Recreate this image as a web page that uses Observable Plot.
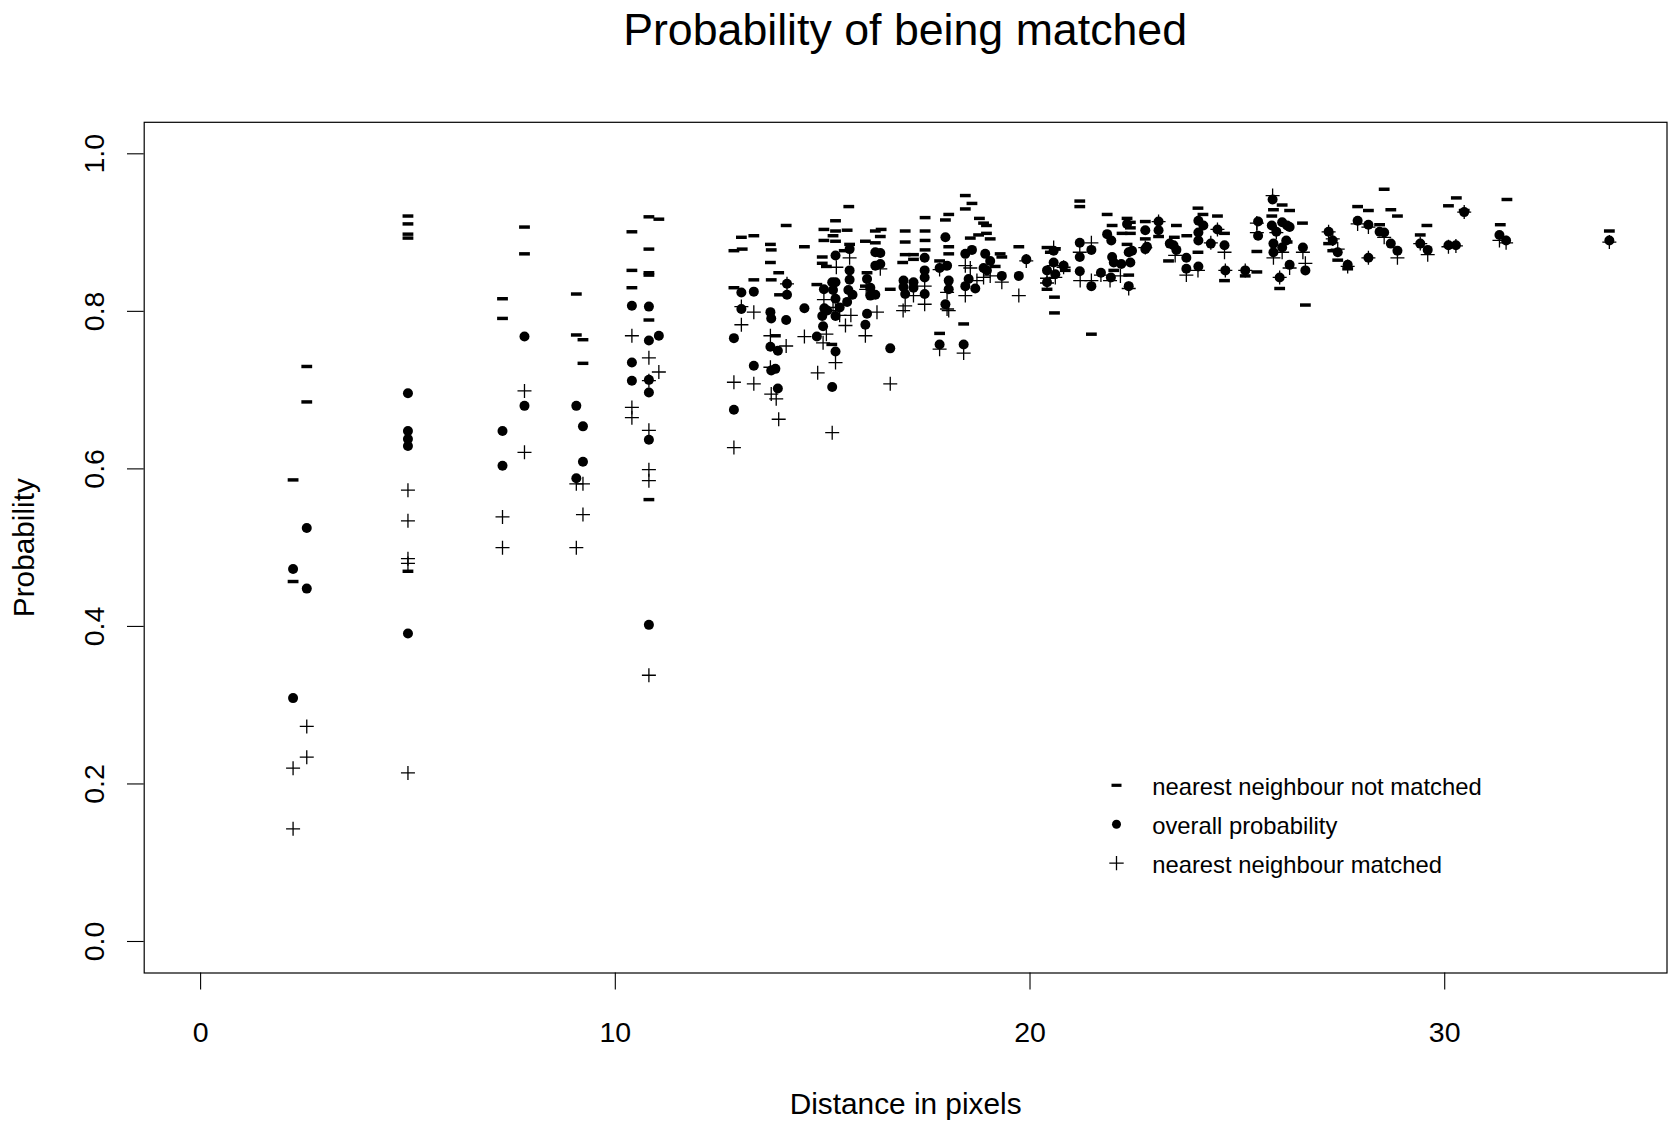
<!DOCTYPE html>
<html>
<head>
<meta charset="utf-8">
<script src="https://cdn.jsdelivr.net/npm/d3@7"></script>
<script src="https://cdn.jsdelivr.net/npm/@observablehq/plot@0.6"></script>
<style>
  html, body { margin: 0; padding: 0; background: #fff; }
  body { width: 1669px; height: 1123px; overflow: hidden;
         font-family: "Liberation Sans", Arial, Helvetica, sans-serif; color: #000; }
  #title { height: 70px; box-sizing: border-box; padding: 4px 2.5px 0 143.7px;
           text-align: center; font-size: 44.7px; line-height: 51px; white-space: nowrap; }
  #chart svg { display: block; }
</style>
</head>
<body>
<div id="title">Probability of being matched</div>
<div id="chart"></div>
<script>
// Probability that the nearest neighbour was NOT matched, by distance (pixels)
const notMatched = [
  [2.23,0.586],[2.23,0.457],[2.56,0.730],[2.56,0.685],
  [5.0,0.921],[5.0,0.911],[5.0,0.898],[5.0,0.893],[5.0,0.470],
  [7.28,0.816],[7.28,0.791],[7.81,0.907],[7.81,0.873],
  [9.06,0.822],[9.06,0.770],[9.22,0.764],[9.22,0.734],
  [10.40,0.901],[10.40,0.852],[10.40,0.830],
  [10.81,0.920],[10.81,0.879],[10.81,0.849],[10.81,0.846],[10.81,0.789],[10.81,0.561],
  [11.05,0.917],
  [15.63,0.933],[14.12,0.909],[15.31,0.915],[13.04,0.894],[13.34,0.896],[12.86,0.877],[13.06,0.879],
  [13.74,0.885],[13.76,0.878],[13.74,0.862],[13.94,0.849],[13.34,0.840],[13.76,0.840],[12.86,0.830],[14.56,0.882],
  [15.03,0.904],[15.31,0.902],[15.59,0.903],[15.25,0.896],[15.03,0.890],[15.31,0.889],[15.65,0.885],[15.52,0.877],
  [16.03,0.889],[16.27,0.887],[16.27,0.902],[16.41,0.904],[16.39,0.895],
  [14.99,0.869],[14.99,0.861],[15.09,0.857],[14.86,0.834],[16.63,0.828],[16.07,0.849],[16.03,0.832],
  [13.86,0.769],[15.22,0.758],[13.96,0.821],
  [18.44,0.947],[18.60,0.937],[18.44,0.930],[17.47,0.919],[18.04,0.923],[17.96,0.916],
  [16.99,0.902],[17.47,0.902],[16.99,0.888],[17.47,0.890],
  [16.93,0.862],[16.99,0.872],[17.19,0.872],[17.19,0.866],[17.47,0.878],
  [17.82,0.772],[18.40,0.784],
  [18.78,0.918],[18.88,0.912],[18.95,0.909],[18.95,0.899],[19.04,0.892],
  [18.56,0.893],[18.76,0.897],[18.04,0.882],[18.04,0.873],
  [19.28,0.873],[19.32,0.869],[19.16,0.857],[19.73,0.882],
  [20.41,0.881],[20.49,0.875],[20.61,0.879],[20.41,0.828],[20.59,0.818],[20.59,0.798],
  [21.20,0.940],[21.20,0.933],[17.82,0.864],
  [21.48,0.771],[21.86,0.923],[21.98,0.909],
  [22.34,0.918],[22.42,0.913],[22.42,0.906],[22.22,0.899],[22.42,0.899],[22.34,0.885],
  [22.78,0.914],[22.78,0.892],[22.02,0.852],[22.38,0.846],[23.10,0.895],[23.34,0.864],
  [23.53,0.909],[23.48,0.894],[23.78,0.896],[24.05,0.931],[24.17,0.923],[24.05,0.875],
  [24.52,0.921],[24.69,0.899],[24.69,0.839],[25.19,0.845],[25.47,0.876],[25.47,0.850],[20.85,0.852],
  [28.54,0.955],[27.90,0.933],[28.16,0.928],[28.70,0.929],[28.86,0.921],[29.57,0.909],[29.41,0.897],[28.43,0.910],
  [26.08,0.935],[26.26,0.928],[25.87,0.929],[25.83,0.921],[26.57,0.912],[26.20,0.888],[26.02,0.829],[26.64,0.808],
  [27.20,0.886],[27.30,0.877],[27.42,0.865],[27.66,0.854],
  [30.28,0.944],[30.09,0.934],[31.50,0.942],[31.34,0.910],[33.97,0.902],[30.47,0.928]
];

// Overall probability of being matched
const overall = [
  [2.23,0.473],[2.23,0.309],[2.56,0.525],[2.56,0.448],
  [5.0,0.696],[5.0,0.648],[5.0,0.638],[5.0,0.629],[5.0,0.391],
  [7.28,0.648],[7.28,0.604],[7.81,0.768],[7.81,0.680],
  [9.06,0.680],[9.06,0.588],[9.22,0.654],[9.22,0.609],
  [10.40,0.807],[10.40,0.735],[10.40,0.712],
  [10.81,0.806],[10.81,0.763],[10.81,0.713],[10.81,0.697],[10.81,0.637],[10.81,0.402],
  [11.05,0.769],
  [13.04,0.824],[13.34,0.825],[13.04,0.803],[12.86,0.766],[13.34,0.731],[12.86,0.675],
  [13.74,0.799],[13.76,0.791],[14.12,0.789],[13.74,0.755],[13.92,0.750],[13.76,0.725],[13.86,0.727],[13.92,0.702],
  [14.14,0.835],[14.14,0.821],[14.56,0.804],[14.86,0.768],
  [15.03,0.828],[15.04,0.804],[15.11,0.801],[14.99,0.794],[15.01,0.781],
  [15.23,0.837],[15.31,0.837],[15.25,0.827],[15.31,0.816],[15.31,0.794],[15.31,0.749],[15.23,0.704],[15.31,0.871],
  [15.65,0.879],[15.65,0.852],[15.65,0.840],[15.62,0.827],[15.72,0.821],[15.59,0.812],[15.41,0.805],
  [16.07,0.841],[16.15,0.830],[16.15,0.820],[16.27,0.821],[16.07,0.797],[16.03,0.783],
  [16.27,0.875],[16.39,0.874],[16.27,0.858],[16.39,0.860],[16.63,0.753],
  [16.95,0.839],[16.95,0.831],[16.99,0.822],[17.19,0.837],[17.19,0.830],
  [17.46,0.868],[17.46,0.852],[17.46,0.843],[17.46,0.822],
  [17.82,0.758],[17.96,0.894],[18.00,0.858],[18.04,0.839],[18.04,0.828],[17.96,0.809],[17.82,0.855],
  [18.40,0.758],[18.44,0.873],[18.60,0.878],[18.52,0.841],[18.44,0.832],[18.68,0.829],
  [18.92,0.873],[19.04,0.864],[18.88,0.855],[18.96,0.852],[19.32,0.845],
  [19.73,0.845],[19.91,0.866],
  [20.41,0.852],[20.41,0.837],[20.57,0.877],[20.57,0.862],[20.61,0.847],[20.81,0.858],
  [21.20,0.887],[21.20,0.869],[21.20,0.851],
  [21.48,0.878],[21.48,0.832],[21.71,0.849],
  [21.86,0.898],[21.96,0.890],[21.98,0.869],[22.02,0.862],[21.95,0.843],[22.20,0.860],
  [22.34,0.911],[22.38,0.875],[22.46,0.877],[22.42,0.862],[22.38,0.832],
  [22.78,0.903],[22.78,0.879],[22.82,0.882],[23.10,0.914],[23.10,0.903],
  [23.37,0.886],[23.46,0.884],[23.53,0.878],[23.77,0.868],[23.77,0.854],
  [24.06,0.915],[24.18,0.909],[24.06,0.900],[24.06,0.890],[24.06,0.857],
  [24.36,0.886],[24.52,0.904],[24.69,0.884],[24.71,0.852],
  [25.19,0.852],[25.50,0.914],[25.50,0.896],
  [25.85,0.942],[25.83,0.909],[25.94,0.901],[26.08,0.913],[26.20,0.909],[26.26,0.907],[26.18,0.890],
  [25.87,0.886],[25.87,0.875],[26.08,0.881],[26.26,0.859],[26.64,0.852],[26.02,0.843],[26.58,0.881],
  [27.20,0.901],[27.30,0.890],[27.42,0.875],[27.66,0.859],[28.16,0.868],[27.90,0.915],[28.16,0.910],
  [28.43,0.901],[28.54,0.900],[28.70,0.886],[28.86,0.877],[29.41,0.886],[29.59,0.878],
  [30.09,0.884],[30.27,0.884],[30.47,0.926],[31.32,0.897],[31.48,0.890],[33.97,0.890]
];

// Probability when the nearest neighbour was matched
const matched = [
  [2.23,0.220],[2.23,0.143],[2.56,0.273],[2.56,0.234],
  [5.0,0.573],[5.0,0.534],[5.0,0.486],[5.0,0.480],[5.0,0.214],
  [7.28,0.539],[7.28,0.500],[7.81,0.699],[7.81,0.621],
  [9.06,0.581],[9.06,0.500],[9.22,0.581],[9.22,0.542],
  [10.40,0.769],[10.40,0.678],[10.40,0.665],
  [10.81,0.741],[10.81,0.712],[10.81,0.649],[10.81,0.599],[10.81,0.585],[10.81,0.338],
  [11.05,0.723],
  [13.04,0.806],[13.34,0.799],[13.04,0.783],[12.86,0.710],[13.34,0.708],[12.86,0.627],
  [13.74,0.769],[14.12,0.756],[13.74,0.729],[13.76,0.695],[13.88,0.689],[13.94,0.663],
  [14.56,0.768],[14.88,0.722],[15.01,0.760],[15.09,0.771],[15.31,0.735],[15.23,0.646],
  [15.33,0.856],[15.31,0.801],[15.68,0.795],[15.55,0.782],[15.65,0.868],[14.14,0.835],
  [15.03,0.815],[15.25,0.805],[15.41,0.795],
  [16.03,0.769],[16.31,0.799],[16.05,0.828],[16.39,0.854],[16.63,0.708],
  [16.94,0.801],[16.99,0.807],[17.19,0.820],[17.46,0.809],[17.46,0.832],[17.82,0.752],
  [18.00,0.803],[18.04,0.801],[18.00,0.824],[18.40,0.747],[18.44,0.820],[18.44,0.858],[18.56,0.855],
  [18.72,0.839],[18.88,0.843],[19.04,0.845],[19.32,0.837],[19.73,0.820],[19.91,0.864],
  [20.41,0.836],[20.41,0.842],[20.57,0.881],[20.57,0.858],[20.61,0.843],[20.81,0.856],[17.82,0.853],[21.20,0.875],
  [21.21,0.839],[21.48,0.887],[21.48,0.839],[21.71,0.846],[22.18,0.845],[21.93,0.839],[22.38,0.829],
  [22.78,0.881],[23.10,0.914],[23.50,0.871],[23.77,0.846],[24.05,0.852],[24.36,0.887],[24.52,0.904],
  [24.69,0.875],[24.71,0.852],[25.19,0.852],[25.47,0.912],[25.47,0.900],
  [25.85,0.947],[25.87,0.868],[26.08,0.875],[26.26,0.855],[26.02,0.843],[26.64,0.861],[26.58,0.875],[25.94,0.900],
  [27.20,0.901],[27.30,0.892],[27.42,0.879],[27.66,0.857],[28.16,0.868],[27.90,0.911],[28.16,0.907],
  [28.54,0.894],[28.86,0.868],[29.41,0.886],[29.59,0.872],
  [30.09,0.882],[30.27,0.883],[30.47,0.926],[31.32,0.890],[31.48,0.887],[33.97,0.888]
];

// Axis ticks and limits
const xTicks = [0, 10, 20, 30];
const yTicks = [0, 0.2, 0.4, 0.6, 0.8, 1.0];
const xLim = [0, 34];
const yLim = [0, 1];

const legendLabels = [
  "nearest neighbour not matched",
  "overall probability",
  "nearest neighbour matched"
];

// R-style axis padding: extend the data limits by 4% on each side
const pad4 = ([a, b]) => { const d = (b - a) * 0.04; return [a - d, b + d]; };
const xDomain = pad4(xLim);
const yDomain = pad4(yLim);

const rows = (pairs) => pairs.map(([dist, prob]) => ({dist, prob}));

// Point symbols: a short bar ("-") and a thin plus ("+")
const dashSymbol = {
  draw(ctx, size) {
    const r = Math.sqrt(size / Math.PI);
    ctx.rect(-r, -r * 0.32, 2 * r, r * 0.64);
  }
};
const plusSymbol = {
  draw(ctx, size) {
    const r = Math.sqrt(size / Math.PI);
    ctx.moveTo(-r, 0); ctx.lineTo(r, 0);
    ctx.moveTo(0, -r); ctx.lineTo(0, r);
  }
};

const FONT = '"Liberation Sans", Arial, Helvetica, sans-serif';
const TICK_FS = 28.5;
const LABEL_FS = 29.8;
const LEGEND_FS = 23.8;

// legend layout, relative to the plot frame's top-left corner
const LEGEND_SYMBOL_DX = 972.3;
const LEGEND_TEXT_DX = 1008;
const legendRowDy = (i) => 663 + i * 38.9;
const legendSymbols = [
  {symbol: dashSymbol, r: 5.0, fill: "black", stroke: "none", strokeWidth: 0},
  {symbol: "circle", r: 4.5, fill: "black", stroke: "none", strokeWidth: 0},
  {symbol: plusSymbol, r: 7.2, fill: "none", stroke: "black", strokeWidth: 1.3}
];

const M = {top: 51.8, right: 2.5, bottom: 150.5, left: 143.7};

const chart = Plot.plot({
  width: 1669,
  height: 1053,
  marginTop: M.top,
  marginRight: M.right,
  marginBottom: M.bottom,
  marginLeft: M.left,
  style: {fontFamily: FONT, fontSize: TICK_FS + "px", color: "black", background: "white"},
  x: {domain: xDomain},
  y: {domain: yDomain},
  marks: [
    Plot.frame({stroke: "black", strokeWidth: 1.2}),

    // x axis: ticks and labels
    Plot.axisX(xTicks, {tickSize: 17, tickPadding: 31.5, tickFormat: d3.format("d"),
      fontSize: TICK_FS, label: null, stroke: "black", strokeWidth: 1.1}),
    // y axis: ticks, with rotated labels drawn separately
    Plot.axisY(yTicks, {tickSize: 16.7, tickFormat: () => "", label: null, stroke: "black", strokeWidth: 1.1}),
    Plot.text(yTicks, {x: () => xDomain[0], y: d => d, text: d => d3.format(".1f")(d),
      rotate: -90, dx: -40, textAnchor: "middle", lineAnchor: "bottom", fontSize: TICK_FS, fill: "black"}),

    // axis titles
    Plot.text(["Distance in pixels"], {frameAnchor: "bottom", dy: 140.5, lineAnchor: "bottom",
      textAnchor: "middle", fontSize: LABEL_FS, fill: "black"}),
    Plot.text(["Probability"], {frameAnchor: "left", dx: -110.3, rotate: -90, lineAnchor: "bottom",
      textAnchor: "middle", fontSize: LABEL_FS, fill: "black"}),

    // data
    Plot.dot(rows(notMatched), {x: "dist", y: "prob", symbol: dashSymbol, r: 5.4, fill: "black", stroke: "none"}),
    Plot.dot(rows(overall), {x: "dist", y: "prob", symbol: "circle", r: 5.0, fill: "black", stroke: "none"}),
    Plot.dot(rows(matched), {x: "dist", y: "prob", symbol: plusSymbol, r: 7, fill: "none", stroke: "black", strokeWidth: 1.3}),

    // legend symbols
    ...legendLabels.map((label, i) =>
      Plot.dot([label], {frameAnchor: "top-left", dx: LEGEND_SYMBOL_DX, dy: legendRowDy(i), ...legendSymbols[i]})),
    // legend labels
    ...legendLabels.map((label, i) =>
      Plot.text([label], {frameAnchor: "top-left", dx: LEGEND_TEXT_DX, dy: legendRowDy(i) + 2,
        textAnchor: "start", lineAnchor: "middle", fontSize: LEGEND_FS, fill: "black"}))
  ]
});

document.getElementById("chart").appendChild(chart);
</script>
</body>
</html>
